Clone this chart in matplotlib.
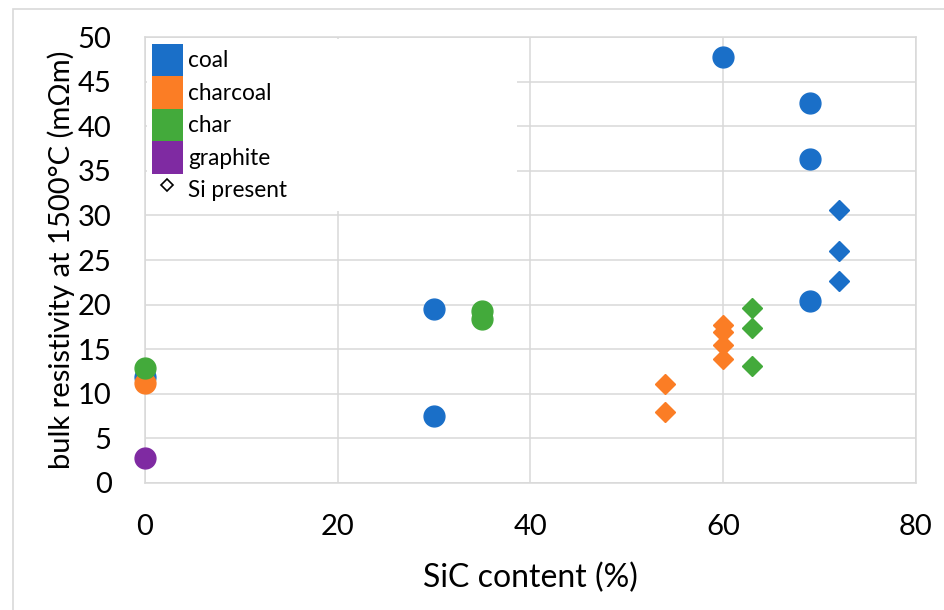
import matplotlib
matplotlib.use('Agg')
import matplotlib.pyplot as plt
from matplotlib.patches import Patch, Rectangle
from matplotlib.lines import Line2D

plt.rcParams['font.family'] = ['Lato', 'DejaVu Sans']

# carbon materials, colours as in the original chart
materials = ['coal', 'charcoal', 'char', 'graphite']
colours = ['#1a6fc8', '#fb7d25', '#43aa3b', '#7f2aa2']

# samples without Si (circles): SiC content (%), resistivity (mOhm m)
coal_sic = [0, 30, 30, 60, 69, 69, 69]
coal_res = [11.9, 19.5, 7.5, 47.8, 42.6, 36.3, 20.4]
charcoal_sic = [0]
charcoal_res = [11.2]
char_sic = [0, 35, 35]
char_res = [12.9, 19.3, 18.4]
graphite_sic = [0]
graphite_res = [2.8]

# samples with Si present (diamonds)
coal_si_sic = [72, 72, 72]
coal_si_res = [30.6, 26.0, 22.6]
charcoal_si_sic = [54, 54, 60, 60, 60, 60]
charcoal_si_res = [11.1, 8.0, 17.7, 16.9, 15.5, 13.9]
char_si_sic = [63, 63, 63]
char_si_res = [19.6, 17.4, 13.1]

xticks = [0, 20, 40, 60, 80]
yticks = [0, 5, 10, 15, 20, 25, 30, 35, 40, 45, 50]

fig = plt.figure(figsize=(9.44, 6.10), dpi=100)
ax = fig.add_axes([0.1536, 0.2082, 0.8167, 0.7311])

# outer chart border
fig.patches.append(Rectangle((13 / 944., -0.1), 1.2, (601 / 610.) + 0.1,
                             transform=fig.transFigure, fill=False,
                             edgecolor='#d9d9d9', linewidth=1.2))

circles = [(coal_sic, coal_res), (charcoal_sic, charcoal_res),
           (char_sic, char_res), (graphite_sic, graphite_res)]
diamonds = [(coal_si_sic, coal_si_res), (charcoal_si_sic, charcoal_si_res),
            (char_si_sic, char_si_res), ([], [])]

for (xs, ys), (xd, yd), c in zip(circles, diamonds, colours):
    ax.plot(xs, ys, 'o', color=c, markersize=15, linestyle='none',
            clip_on=False, zorder=3)
    if xd:
        ax.plot(xd, yd, 'D', color=c, markersize=10, linestyle='none',
                clip_on=False, zorder=3)

ax.set_xlim(0, 80)
ax.set_ylim(0, 50)
ax.set_xticks(xticks)
ax.set_yticks(yticks)
ax.grid(True, color='#d9d9d9', linewidth=1.1)
ax.set_axisbelow(True)
for s in ax.spines.values():
    s.set_color('#d9d9d9')
    s.set_linewidth(1.1)
ax.tick_params(length=0, labelsize=21)
ax.tick_params(axis='x', pad=22)
ax.tick_params(axis='y', pad=24)

ax.set_xlabel('SiC content (%)', fontsize=23, labelpad=17)
ax.set_ylabel('bulk resistivity at 1500°C (mΩm)', fontsize=21, labelpad=2)

handles = [Patch(facecolor=c, edgecolor='none') for c in colours]
handles.append(Line2D([], [], marker='D', markersize=6, markerfacecolor='white',
                      markeredgecolor='black', markeredgewidth=1.2,
                      linestyle='none'))
leg = ax.legend(handles, materials + ['Si present'], loc='upper left',
                bbox_to_anchor=(0.003, 0.62, 0.48, 0.375), mode='expand',
                fontsize=16.3, labelspacing=0, handleheight=1.83,
                handlelength=1.37, handletextpad=0.22, borderpad=0.2,
                borderaxespad=0, fancybox=False, framealpha=1,
                edgecolor='none')

fig.savefig('out.png', dpi=100)
